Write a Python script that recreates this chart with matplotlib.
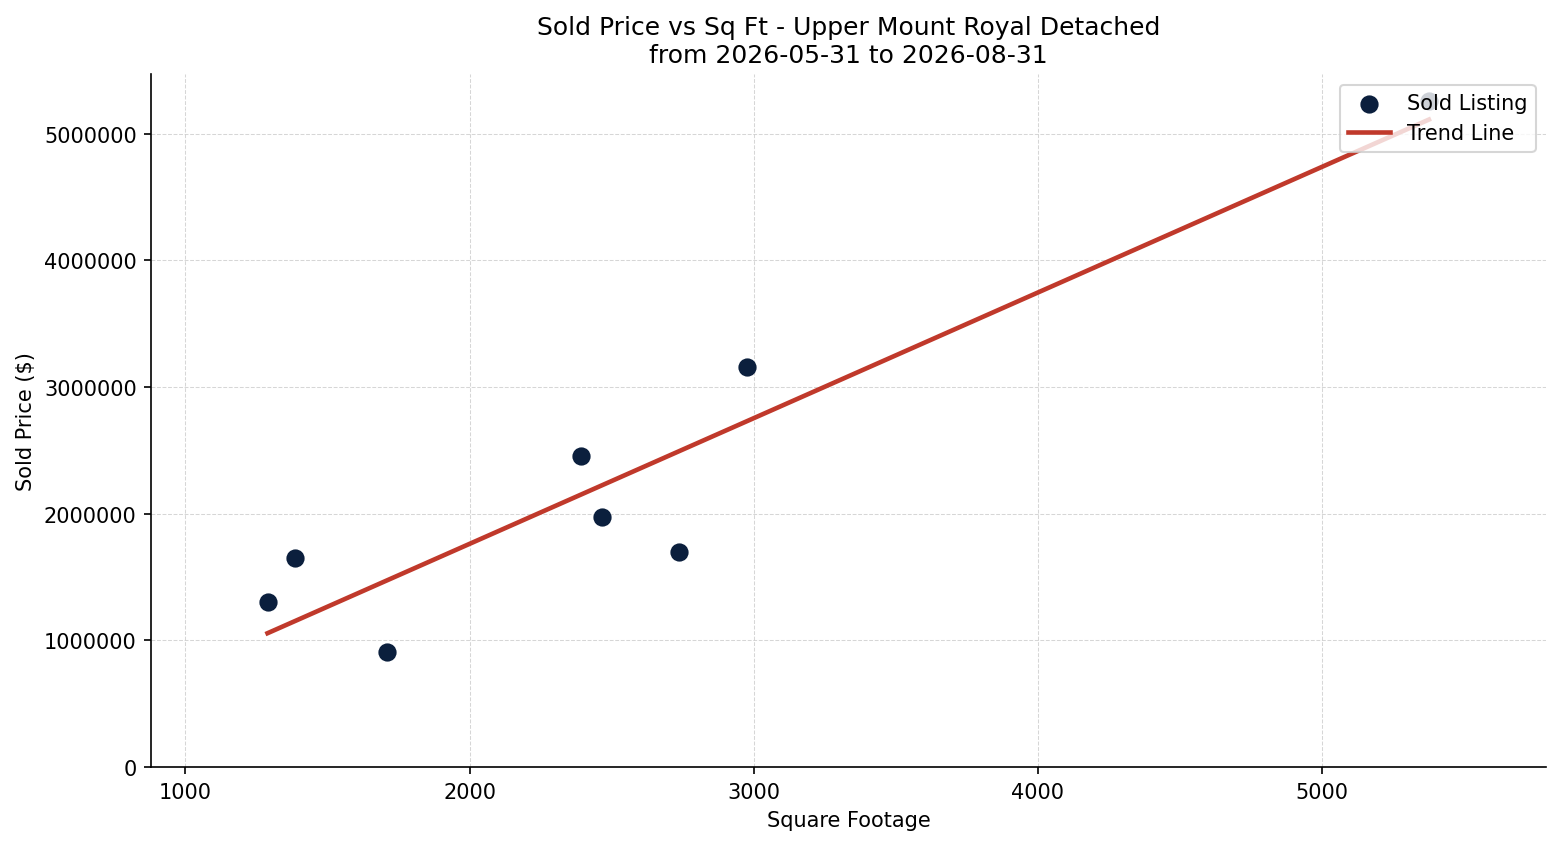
import numpy as np
import matplotlib
matplotlib.use("Agg")
import matplotlib.pyplot as plt

sqft = [1289, 1384, 1711, 2394, 2468, 2736, 2975, 5377]
price = [1302000, 1650000, 908000, 2455000, 1973000, 1697000, 3157000, 5256000]

title = "Sold Price vs Sq Ft - Upper Mount Royal Detached\nfrom 2026-05-31 to 2026-08-31"

fig, ax = plt.subplots(figsize=(10.4, 5.633), dpi=150)
ax.scatter(sqft, price, s=60, color="#0b1f3d", label="Sold Listing", zorder=3)

coef = np.polyfit(sqft, price, 1)
xs = np.array([min(sqft), max(sqft)])
ax.plot(xs, np.polyval(coef, xs), color="#c0392b", lw=2.2, label="Trend Line", zorder=2)

ax.set_title(title)
ax.set_xlabel("Square Footage")
ax.set_ylabel("Sold Price ($)")
ax.set_xlim(880, 5789)
ax.set_ylim(0, 5470000)
ax.ticklabel_format(style="plain", axis="y", useOffset=False)
ax.grid(True, linestyle="--", linewidth=0.5, color="#cccccc", alpha=0.8)
ax.spines["top"].set_visible(False)
ax.spines["right"].set_visible(False)
ax.legend(loc="upper right")
fig.subplots_adjust(left=0.097, right=0.991, top=0.911, bottom=0.091)
fig.savefig("out.png", dpi=150)
